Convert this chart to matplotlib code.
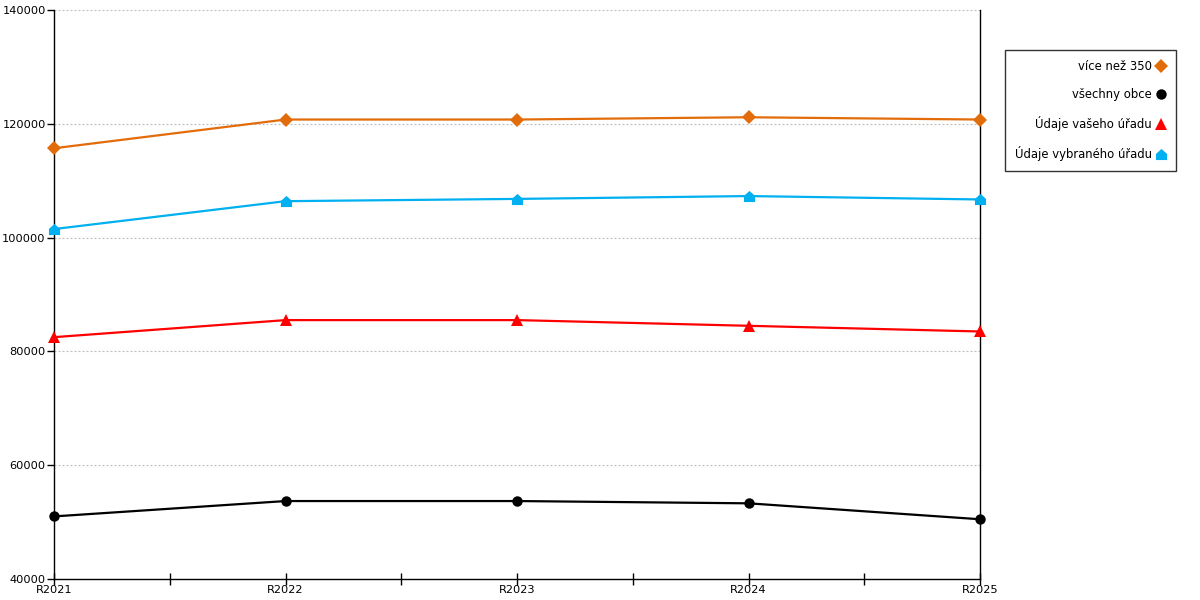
import matplotlib
matplotlib.use("Agg")
import matplotlib.pyplot as plt
from matplotlib.path import Path
from matplotlib.lines import Line2D
from matplotlib.ticker import FixedLocator

categories = ["R2021", "R2022", "R2023", "R2024", "R2025"]
vice_nez_350 = [115700, 120750, 120750, 121150, 120750]
vsechny_obce = [51000, 53700, 53700, 53300, 50500]
vaseho_uradu = [82500, 85500, 85500, 84500, 83500]
vybraneho_uradu = [101500, 106400, 106800, 107300, 106700]

labels = ["více než 350", "všechny obce", "Údaje vašeho úřadu", "Údaje vybraného úřadu"]
colors = ["#E36C0A", "#000000", "#FF0000", "#00B0F0"]

house = Path([(-1, -1), (1, -1), (1, 0.1), (0, 1), (-1, 0.1), (-1, -1)],
             [Path.MOVETO, Path.LINETO, Path.LINETO, Path.LINETO, Path.LINETO, Path.CLOSEPOLY])
markers = ["D", "o", "^", house]
msizes = [7, 7.5, 8, 8]

plt.rcParams['font.family'] = ['DejaVu Sans']
fig = plt.figure(figsize=(12, 6), dpi=100)
ax = fig.add_axes([54/1200, 1-579/600, (980-54)/1200, (579-10)/600])

x = list(range(len(categories)))
series = [vice_nez_350, vsechny_obce, vaseho_uradu, vybraneho_uradu]
for s, c, m, ms in zip(series, colors, markers, msizes):
    ax.plot(x, s, color=c, lw=1.6, marker=m, markersize=ms,
            markeredgewidth=0, zorder=3, clip_on=False)

ax.set_xlim(0, len(categories)-1)
ax.set_ylim(40000, 140000)
ax.set_xticks(x)
ax.set_xticklabels(categories)
ax.xaxis.set_minor_locator(FixedLocator([i + 0.5 for i in range(len(categories)-1)]))
ax.set_yticks(range(40000, 140001, 20000))
ax.tick_params(axis='x', which='both', direction='inout', length=8, width=1,
               labelsize=8.2, pad=0)
ax.tick_params(axis='y', direction='out', length=5, width=1, labelsize=8.2, pad=1)
ax.grid(axis='y', color='#BDBDBD', linestyle=(0, (1.8, 1.8)), linewidth=0.8)
ax.set_axisbelow(True)
ax.spines['top'].set_visible(False)
for sp in ['left', 'right', 'bottom']:
    ax.spines[sp].set_color('black')
    ax.spines[sp].set_linewidth(1)

handles = [Line2D([], [], linestyle='none', marker=m, color=c, markersize=ms, markeredgewidth=0)
           for m, c, ms in zip(markers, colors, msizes)]
leg = fig.legend(handles, labels, loc='upper right',
                 bbox_to_anchor=(1176/1200, 1-50/600), bbox_transform=fig.transFigure,
                 borderaxespad=0, markerfirst=False, fontsize=8.4, frameon=True,
                 fancybox=False, edgecolor='black', handlelength=0.85,
                 handletextpad=0.35, labelspacing=1.3, borderpad=0.85)
leg.get_frame().set_linewidth(1)

fig.savefig("out.png", dpi=100)
